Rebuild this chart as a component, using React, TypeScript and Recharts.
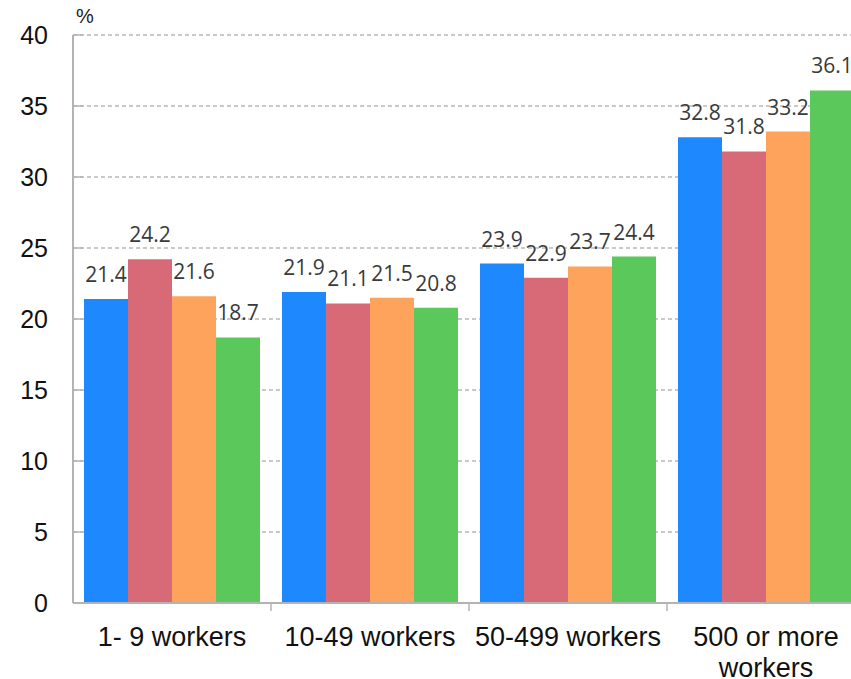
import { BarChart, Bar, XAxis, YAxis, CartesianGrid, LabelList } from 'recharts'

const categories = ['1- 9 workers', '10-49 workers', '50-499 workers', '500 or more workers']
const seriesA = [21.4, 21.9, 23.9, 32.8]
const seriesB = [24.2, 21.1, 22.9, 31.8]
const seriesC = [21.6, 21.5, 23.7, 33.2]
const seriesD = [18.7, 20.8, 24.4, 36.1]
const yTicks = [0, 5, 10, 15, 20, 25, 30, 35, 40]

const chartData = categories.map((c, i) => ({
  name: c,
  a: seriesA[i],
  b: seriesB[i],
  c: seriesC[i],
  d: seriesD[i],
}))

const AXIS = '#b3b3b3'
const FONT = 'Liberation Sans, Arial, sans-serif'

// greedy word wrap by character count
function wrap(label: string, max = 14) {
  const lines: string[] = []
  let cur = ''
  for (const w of label.split(' ')) {
    const next = cur ? cur + ' ' + w : w
    if (next.length > max && cur) {
      lines.push(cur)
      cur = w
    } else {
      cur = next
    }
  }
  if (cur) lines.push(cur)
  return lines
}

function CategoryTick(props: any) {
  const { x, y, payload, index, visibleTicksCount } = props
  const band = 198
  const showBoundary = index < (visibleTicksCount ?? 4) - 1
  const lines = wrap(String(payload.value))
  return (
    <g>
      {showBoundary && (
        <line x1={x + band / 2} x2={x + band / 2} y1={y - 9} y2={y} stroke={AXIS} strokeWidth={1.5} />
      )}
      <text x={x} y={y + 35} textAnchor="middle" fill="#111" fontSize={27} fontFamily={FONT}>
        {lines.map((l, i) => (
          <tspan key={i} x={x} dy={i === 0 ? 0 : 31}>
            {l}
          </tspan>
        ))}
      </text>
    </g>
  )
}

function ValueTick(props: any) {
  const { x, y, payload } = props
  return (
    <g>
      {payload.value > 0 && (
        <line x1={x + 25} x2={x + 35} y1={y} y2={y} stroke={AXIS} strokeWidth={1.5} />
      )}
      <text x={x} y={y} dy={9} textAnchor="end" fill="#111" fontSize={25} fontFamily={FONT}>
        {payload.value}
      </text>
    </g>
  )
}

const labelStyle = { fontSize: 21, fill: '#3a3a3a', fontFamily: 'Open Sans, Noto Sans, sans-serif' }

export default function App() {
  return (
    <div style={{ position: 'absolute', left: 0, top: 0, width: 851, height: 679, overflow: 'hidden', background: '#fff' }}>
      <span
        style={{
          position: 'absolute',
          left: 76,
          top: 5,
          fontSize: 20,
          fontFamily: FONT,
          color: '#222',
        }}
      >
        %
      </span>
      <BarChart
        width={880}
        height={679}
        data={chartData}
        margin={{ top: 35, right: 15, bottom: 16, left: 0 }}
        barGap={0}
        barCategoryGap={11}
      >
        <CartesianGrid vertical={false} stroke="#b8b8b8" strokeDasharray="4 3" strokeWidth={1.5} />
        <XAxis
          dataKey="name"
          height={60}
          interval={0}
          axisLine={{ stroke: AXIS, strokeWidth: 2 }}
          tickLine={false}
          tick={<CategoryTick />}
        />
        <YAxis
          width={73}
          domain={[0, 40]}
          ticks={yTicks}
          interval={0}
          axisLine={{ stroke: AXIS, strokeWidth: 2 }}
          tickLine={false}
          tickSize={0}
          tickMargin={25}
          tick={<ValueTick />}
        />
        <Bar dataKey="a" fill="#1e88ff" isAnimationActive={false}>
          <LabelList dataKey="a" position="top" offset={17} style={labelStyle} />
        </Bar>
        <Bar dataKey="b" fill="#d86a78" isAnimationActive={false}>
          <LabelList dataKey="b" position="top" offset={17} style={labelStyle} />
        </Bar>
        <Bar dataKey="c" fill="#fea35c" isAnimationActive={false}>
          <LabelList dataKey="c" position="top" offset={17} style={labelStyle} />
        </Bar>
        <Bar dataKey="d" fill="#5bc85c" isAnimationActive={false}>
          <LabelList dataKey="d" position="top" offset={17} style={labelStyle} />
        </Bar>
      </BarChart>
    </div>
  )
}
